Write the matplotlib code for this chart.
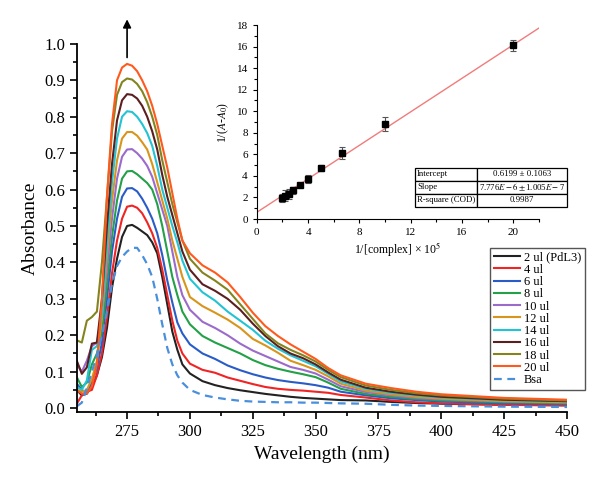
#!/usr/bin/env python3
"""UV-Vis titration spectra with Benesi-Hildebrand inset"""

import matplotlib

matplotlib.use("Agg")
import matplotlib.pyplot as plt
from matplotlib.ticker import MultipleLocator

plt.rcParams["font.family"] = ["Liberation Serif", "DejaVu Serif"]
plt.rcParams["mathtext.fontset"] = "stix"

# wavelength grid (nm)
wavelength = [255, 257, 259, 261, 263, 265, 267, 269, 271, 273, 275, 277, 279, 281,
              283, 285, 287, 289, 291, 293, 295, 297, 300, 305, 310, 315, 320, 325,
              330, 335, 340, 345, 350, 355, 360, 370, 380, 390, 400, 425, 450]

abs_2ul = [0.050, 0.035, 0.040, 0.060, 0.090, 0.140, 0.220, 0.330, 0.410, 0.470, 0.500,
           0.503, 0.495, 0.485, 0.475, 0.455, 0.425, 0.360, 0.285, 0.210, 0.160, 0.120,
           0.095, 0.074, 0.063, 0.055, 0.049, 0.044, 0.039, 0.035, 0.031, 0.028, 0.026,
           0.024, 0.022, 0.021, 0.017, 0.014, 0.012, 0.009, 0.008]
abs_4ul = [0.012, 0.035, 0.045, 0.050, 0.090, 0.150, 0.250, 0.370, 0.460, 0.520, 0.553,
           0.556, 0.550, 0.535, 0.510, 0.480, 0.440, 0.380, 0.310, 0.240, 0.185, 0.150,
           0.122, 0.105, 0.097, 0.084, 0.075, 0.066, 0.058, 0.053, 0.050, 0.048, 0.045,
           0.042, 0.036, 0.029, 0.021, 0.016, 0.013, 0.009, 0.007]
abs_6ul = [0.067, 0.050, 0.040, 0.070, 0.110, 0.180, 0.300, 0.430, 0.520, 0.580, 0.603,
           0.604, 0.595, 0.575, 0.550, 0.520, 0.480, 0.420, 0.350, 0.290, 0.235, 0.205,
           0.175, 0.150, 0.135, 0.117, 0.104, 0.093, 0.084, 0.077, 0.072, 0.068, 0.063,
           0.056, 0.045, 0.035, 0.027, 0.022, 0.018, 0.013, 0.011]
abs_8ul = [0.085, 0.058, 0.070, 0.120, 0.150, 0.210, 0.340, 0.470, 0.570, 0.630, 0.650,
           0.651, 0.642, 0.630, 0.618, 0.600, 0.560, 0.500, 0.430, 0.360, 0.310, 0.265,
           0.230, 0.198, 0.180, 0.165, 0.150, 0.132, 0.118, 0.108, 0.100, 0.093, 0.085,
           0.070, 0.053, 0.039, 0.031, 0.025, 0.021, 0.016, 0.013]
abs_10ul = [0.120, 0.100, 0.130, 0.170, 0.180, 0.250, 0.380, 0.520, 0.630, 0.690, 0.710,
            0.711, 0.700, 0.685, 0.665, 0.635, 0.590, 0.545, 0.500, 0.430, 0.360, 0.310,
            0.270, 0.237, 0.220, 0.200, 0.177, 0.158, 0.143, 0.128, 0.113, 0.105, 0.095,
            0.078, 0.060, 0.044, 0.035, 0.028, 0.024, 0.018, 0.015]
abs_12ul = [0.050, 0.045, 0.050, 0.080, 0.130, 0.250, 0.420, 0.570, 0.680, 0.740, 0.758,
            0.758, 0.748, 0.730, 0.710, 0.670, 0.620, 0.570, 0.520, 0.460, 0.410, 0.360,
            0.305, 0.280, 0.262, 0.243, 0.220, 0.190, 0.172, 0.152, 0.130, 0.118, 0.105,
            0.087, 0.067, 0.048, 0.038, 0.031, 0.026, 0.019, 0.016]
abs_14ul = [0.058, 0.050, 0.076, 0.160, 0.170, 0.260, 0.450, 0.620, 0.740, 0.800, 0.815,
            0.813, 0.800, 0.780, 0.755, 0.720, 0.665, 0.600, 0.550, 0.500, 0.455, 0.405,
            0.355, 0.318, 0.295, 0.265, 0.240, 0.215, 0.185, 0.163, 0.145, 0.130, 0.115,
            0.094, 0.073, 0.053, 0.042, 0.035, 0.029, 0.022, 0.018]
abs_16ul = [0.130, 0.094, 0.112, 0.177, 0.180, 0.300, 0.500, 0.670, 0.790, 0.845, 0.862,
            0.860, 0.850, 0.830, 0.800, 0.760, 0.710, 0.640, 0.580, 0.530, 0.480, 0.430,
            0.380, 0.340, 0.322, 0.300, 0.270, 0.232, 0.198, 0.170, 0.150, 0.137, 0.120,
            0.098, 0.078, 0.056, 0.045, 0.037, 0.031, 0.023, 0.019]
abs_18ul = [0.186, 0.180, 0.240, 0.250, 0.265, 0.400, 0.580, 0.760, 0.860, 0.895, 0.905,
            0.902, 0.890, 0.870, 0.840, 0.800, 0.750, 0.680, 0.620, 0.560, 0.510, 0.460,
            0.410, 0.372, 0.350, 0.325, 0.285, 0.245, 0.205, 0.178, 0.160, 0.145, 0.128,
            0.105, 0.085, 0.062, 0.050, 0.041, 0.035, 0.026, 0.021]
abs_20ul = [0.049, 0.040, 0.040, 0.060, 0.120, 0.300, 0.580, 0.780, 0.900, 0.935, 0.945,
            0.940, 0.925, 0.900, 0.870, 0.830, 0.780, 0.720, 0.660, 0.590, 0.520, 0.460,
            0.425, 0.392, 0.372, 0.345, 0.305, 0.262, 0.225, 0.198, 0.175, 0.155, 0.135,
            0.110, 0.090, 0.067, 0.055, 0.045, 0.038, 0.028, 0.023]
abs_bsa = [0.005, 0.015, 0.055, 0.100, 0.145, 0.200, 0.265, 0.340, 0.390, 0.415, 0.430,
           0.440, 0.440, 0.420, 0.395, 0.360, 0.300, 0.230, 0.165, 0.120, 0.090, 0.070,
           0.050, 0.036, 0.029, 0.024, 0.020, 0.018, 0.017, 0.016, 0.016, 0.015, 0.015,
           0.014, 0.013, 0.012, 0.009, 0.007, 0.006, 0.004, 0.003]

labels = ["2 ul (PdL3)", "4 ul", "6 ul", "8 ul", "10 ul", "12 ul", "14 ul",
          "16 ul", "18 ul", "20 ul"]
colors = ["#222222", "#f02424", "#2a5cc8", "#23a048", "#9b6bcc", "#d8951c",
          "#22c3d3", "#5b1f1f", "#84841f", "#ff5a1e"]
series = [abs_2ul, abs_4ul, abs_6ul, abs_8ul, abs_10ul, abs_12ul, abs_14ul,
          abs_16ul, abs_18ul, abs_20ul]

# inset: Benesi-Hildebrand
inv_conc = [2.0, 2.22, 2.5, 2.86, 3.33, 4.0, 5.0, 6.67, 10.0, 20.0]
inv_dA = [1.95, 2.15, 2.35, 2.65, 3.15, 3.7, 4.75, 6.1, 8.8, 16.1]
inv_err = [0.4, 0.5, 0.45, 0.3, 0.15, 0.4, 0.3, 0.55, 0.65, 0.5]
intercept = 0.6199
slope = 0.7776  # 7.776E-6 scaled by 10^5
fit_x = [0, 22]
table_rows = [["Intercept", "0.6199 ± 0.1063"],
              ["Slope", r"7.776$E-6\pm$1.005$E-7$"],
              ["R-square (COD)", "0.9987"]]

fig = plt.figure(figsize=(6.0, 4.82), dpi=100)
ax = fig.add_axes([0.128, 0.145, 0.817, 0.764])

for y, c, lab in zip(series, colors, labels):
    ax.plot(wavelength, y, color=c, lw=1.5, label=lab)
ax.plot(wavelength, abs_bsa, color="#4a8fdc", lw=1.6, ls=(0, (3.5, 2.5)), label="Bsa")

ax.set_xlim(255, 450)
ax.set_ylim(-0.011, 1.0)
ax.xaxis.set_major_locator(MultipleLocator(25))
ax.xaxis.set_minor_locator(MultipleLocator(12.5))
ax.yaxis.set_major_locator(MultipleLocator(0.1))
ax.yaxis.set_minor_locator(MultipleLocator(0.05))
ax.set_xticks([275, 300, 325, 350, 375, 400, 425, 450])
ax.yaxis.set_major_formatter(plt.FuncFormatter(lambda v, p: f"{v:.1f}"))
ax.tick_params(which="both", direction="out", width=1.2, labelsize=12)
ax.tick_params(which="major", length=5)
ax.tick_params(which="minor", length=3)
for s in ["top", "right"]:
    ax.spines[s].set_visible(False)
for s in ["left", "bottom"]:
    ax.spines[s].set_linewidth(1.3)
ax.set_xlabel("Wavelength (nm)", fontsize=14)
ax.set_ylabel("Absorbance", fontsize=14)

ax.annotate("", xy=(275, 1.075), xytext=(275, 0.955),
            arrowprops=dict(arrowstyle="-|>", color="black", lw=1.2, mutation_scale=12),
            annotation_clip=False)

leg = ax.legend(loc="upper left", bbox_to_anchor=(0.843, 0.446), borderaxespad=0,
                fontsize=9, labelspacing=0.02, handlelength=2.1, handletextpad=0.3,
                borderpad=0.3, fancybox=False, framealpha=1, edgecolor="#555555")
leg.get_frame().set_linewidth(1.0)

# inset
axin = fig.add_axes([0.428, 0.5456, 0.4705, 0.4025])
axin.plot(fit_x, [intercept + slope * v for v in fit_x], color="#f07c7c", lw=1.0)
axin.errorbar(inv_conc, inv_dA, yerr=inv_err, fmt="s", color="black", ms=4,
              ecolor="#555555", elinewidth=0.8, capsize=2, capthick=0.8)
axin.set_xlim(0, 22)
axin.set_ylim(0, 18)
axin.xaxis.set_major_locator(MultipleLocator(4))
axin.xaxis.set_minor_locator(MultipleLocator(2))
axin.set_xticks([0, 4, 8, 12, 16, 20])
axin.yaxis.set_major_locator(MultipleLocator(2))
axin.yaxis.set_minor_locator(MultipleLocator(1))
axin.tick_params(which="both", direction="out", labelsize=8, width=0.8)
axin.tick_params(which="major", length=3)
axin.tick_params(which="minor", length=2)
for s in ["top", "right"]:
    axin.spines[s].set_visible(False)
axin.set_xlabel(r"1/[complex] × 10$^5$", fontsize=8.5, labelpad=2)
axin.set_ylabel(r"1/($A$-$A_0$)", fontsize=8.5, labelpad=4)
axin.patch.set_alpha(0)

tbl = axin.table(cellText=table_rows, colWidths=[0.41, 0.59],
                 bbox=[0.561, 0.062, 0.538, 0.201], cellLoc="center")
tbl.auto_set_font_size(False)
tbl.set_fontsize(6.3)
for (r, c), cell in tbl.get_celld().items():
    cell.set_linewidth(0.9)
    if c == 0:
        cell.set_text_props(ha="left")
        cell.PAD = 0.03

fig.savefig("out.png", dpi=100)
